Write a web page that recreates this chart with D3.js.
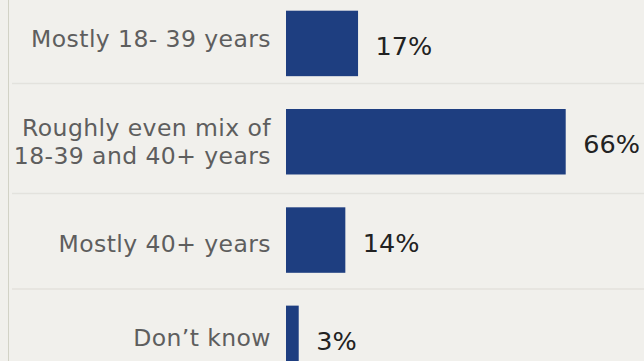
<!DOCTYPE html>
<html>
<head>
<meta charset="utf-8">
<script src="https://cdn.jsdelivr.net/npm/d3@7"></script>
<style>
  html, body { margin: 0; padding: 0; background: #f1f0ec; }
  svg { display: block; }
</style>
</head>
<body>
<svg id="chart" width="644" height="361"></svg>
<script>
const categories = [
  ["Mostly 18- 39 years"],
  ["Roughly even mix of", "18-39 and 40+ years"],
  ["Mostly 40+ years"],
  ["Don\u2019t know"]
];
const values = [17, 66, 14, 3];
const valueLabels = ["17%", "66%", "14%", "3%"];

const W = 644, H = 361;
const svg = d3.select("#chart");
svg.append("rect").attr("width", W).attr("height", H).attr("fill", "#f1f0ec");

const keys = categories.map((c, i) => i);
const y = d3.scaleBand().domain(keys).range([10.7, 371.1]).paddingInner(0.334).paddingOuter(0);
const x = d3.scaleLinear().domain([0, 100]).range([286, 286 + 423.8]);

// separators between rows
const sepY = [83.5, 193.5, 289];
svg.selectAll("line.sep").data(sepY).join("line")
  .attr("class", "sep")
  .attr("x1", 12).attr("x2", W)
  .attr("y1", d => d).attr("y2", d => d)
  .attr("stroke", "#e3e2dd").attr("stroke-width", 1.5);

// left vertical rule
svg.append("line")
  .attr("x1", 8.5).attr("x2", 8.5).attr("y1", 0).attr("y2", H)
  .attr("stroke", "#d2d2c6").attr("stroke-width", 1);

// bars
svg.selectAll("rect.bar").data(values).join("rect")
  .attr("class", "bar")
  .attr("x", x(0))
  .attr("y", (d, i) => y(i))
  .attr("width", d => x(d) - x(0))
  .attr("height", y.bandwidth())
  .attr("fill", "#1e3e80");

// value labels
svg.selectAll("text.val").data(values).join("text")
  .attr("class", "val")
  .attr("x", d => x(d) + 17.5)
  .attr("y", (d, i) => y(i) + y.bandwidth() / 2 + 11.7)
  .attr("font-family", "DejaVu Sans, Verdana, sans-serif")
  .attr("font-size", 25.5)
  .attr("fill", "#222222")
  .text((d, i) => valueLabels[i]);

// category labels
const lh = 28;
const rowShift = [-4, 0, 4, 0];
const cat = svg.selectAll("text.cat").data(categories).join("text")
  .attr("class", "cat")
  .attr("text-anchor", "end")
  .attr("font-family", "DejaVu Sans, Verdana, sans-serif")
  .attr("font-size", 23.5)
  .attr("letter-spacing", 0.42)
  .attr("fill", "#5e5e5e");
cat.each(function(lines, i) {
  const t = d3.select(this);
  const cy = y(i) + y.bandwidth() / 2;
  const first = cy + 8 + rowShift[i] - (lines.length - 1) * lh / 2;
  lines.forEach((ln, j) => {
    t.append("tspan").attr("x", 271).attr("y", first + j * lh).text(ln);
  });
});
</script>
</body>
</html>
